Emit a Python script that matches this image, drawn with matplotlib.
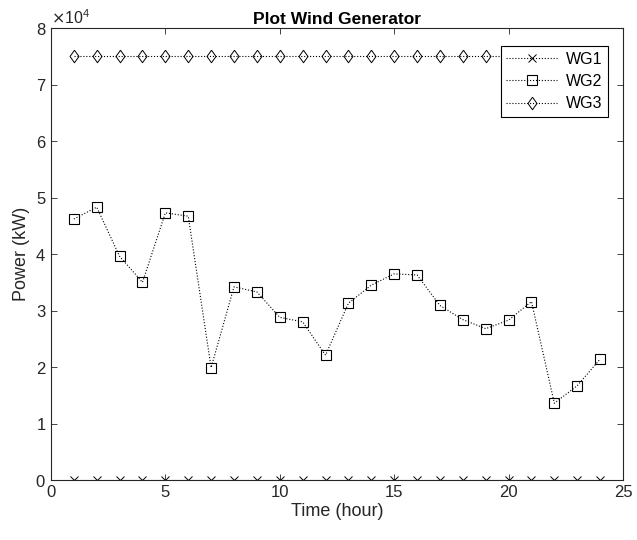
import numpy as np
import matplotlib
matplotlib.use("Agg")
from matplotlib import pyplot as plt
from matplotlib.ticker import ScalarFormatter

plt.rcParams['font.family'] = ['Liberation Sans', 'DejaVu Sans']

hours = list(range(1, 25))
wg1 = [0] * 24
wg2 = [46200, 48300, 39600, 35000, 47300, 46700, 19900, 34200, 33300, 28800,
       28000, 22100, 31300, 34500, 36500, 36300, 30900, 28400, 26800, 28300,
       31600, 13600, 16700, 21400]
wg3 = [75000] * 24

# diamond a bit wider than matplotlib's thin 'd'
diamond = [(0, 1), (0.72, 0), (0, -1), (-0.72, 0), (0, 1)]

fig = plt.figure(figsize=(6.37, 5.4), dpi=100)
ax = fig.add_axes([0.080, 0.111, 0.898, 0.837])

ax.plot(hours, wg1, ':', color='k', lw=0.8, marker='x', ms=6, mew=0.7, label='WG1')
ax.plot(hours, wg2, ':', color='k', lw=0.8, marker='s', ms=7, mfc='none', mew=0.8, label='WG2')
ax.plot(hours, wg3, ':', color='k', lw=0.8, marker=diamond, ms=9, mfc='none', mew=0.7, label='WG3')

ax.set_xlim(0, 25)
ax.set_ylim(0, 80000)
ax.set_xticks([0, 5, 10, 15, 20, 25])
ax.set_yticks(np.arange(0, 80001, 10000))

fmt = ScalarFormatter(useMathText=True)
fmt.set_powerlimits((0, 0))
ax.yaxis.set_major_formatter(fmt)
ax.yaxis.get_offset_text().set_fontsize(11.5)
ax.yaxis.get_offset_text().set_color('#555555')

grey = '#262626'
for s in ax.spines.values():
    s.set_color(grey)
    s.set_linewidth(0.8)
ax.tick_params(direction='in', top=True, right=True, length=4, width=0.6,
               colors=grey, labelsize=12)

ax.set_title('Plot Wind Generator', fontsize=12.5, fontweight='bold', pad=3)
ax.set_xlabel('Time (hour)', fontsize=13, color=grey, labelpad=2)
ax.set_ylabel('Power (kW)', fontsize=13, color=grey, labelpad=4)

leg = ax.legend(loc='upper right', bbox_to_anchor=(0.973, 0.96), fontsize=11.5,
                fancybox=False, edgecolor='k', framealpha=1, handlelength=3.2,
                borderaxespad=0, labelspacing=0.45, handletextpad=0.5,
                borderpad=0.35)
leg.get_frame().set_linewidth(0.8)

fig.savefig('out.png', dpi=100)
